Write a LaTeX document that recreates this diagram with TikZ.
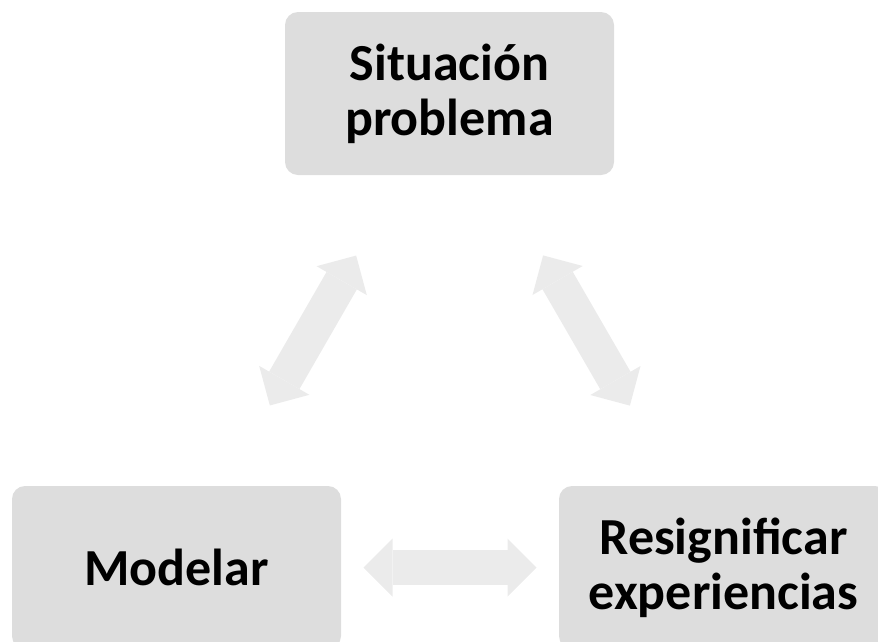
\documentclass[tikz,border=0pt]{standalone}
\usepackage{fontspec}
\setmainfont{Carlito}
\usetikzlibrary{arrows.meta}
\definecolor{cajagris}{HTML}{DDDDDD}
\definecolor{flechagris}{HTML}{EBEBEB}
\tikzset{
	etapa/.style={fill=cajagris, rounded corners=13pt, minimum width=329pt, minimum height=163pt,
		inner sep=0pt, align=center, font=\fontsize{52}{55}\selectfont\bfseries},
	puntagris/.tip={Triangle[length=29pt, width=58pt, line width=0pt]},
	flecha/.style={draw=flechagris, line width=35pt, puntagris-puntagris,
		shorten <=187pt, shorten >=187pt}
}

\begin{document}
\begin{tikzpicture}[x=1pt, y=-1pt]
			%%%%% START %%%%%
			
			\useasboundingbox (0, 0) rectangle (878, 641);
			
			\node[etapa] (situacion) at (449.5, 93.5) {Situación\\problema};
			\node[etapa] (modelar) at (176.5, 567.5) {Modelar};
			\node[etapa] (resignificar) at (723.5, 567.5) {Resignificar\\experiencias};
			
			\draw[flecha] (situacion.center) -- (modelar.center);
			\draw[flecha] (situacion.center) -- (resignificar.center);
			\draw[flecha] (modelar.center) -- (resignificar.center);
			
			%%%%% END %%%%%
		\end{tikzpicture}
\end{document}
